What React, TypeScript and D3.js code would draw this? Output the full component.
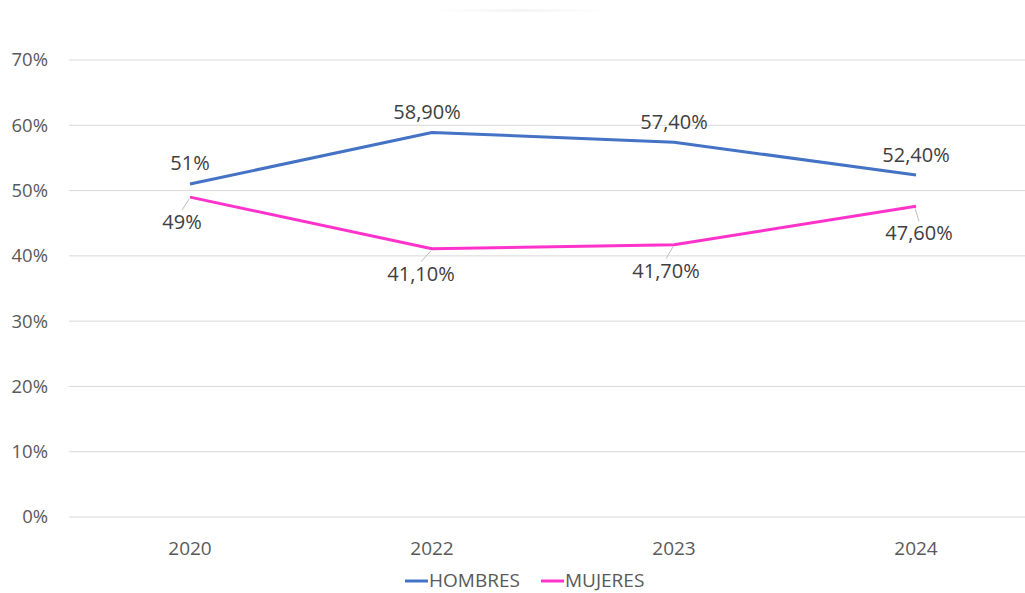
import React from "react";
import * as d3 from "d3";

const categories = ["2020", "2022", "2023", "2024"];
const hombres = [51, 58.9, 57.4, 52.4];
const mujeres = [49, 41.1, 41.7, 47.6];
const hombresLabels = ["51%", "58,90%", "57,40%", "52,40%"];
const mujeresLabels = ["49%", "41,10%", "41,70%", "47,60%"];
const yTicks = [0, 10, 20, 30, 40, 50, 60, 70];

const W = 1025;
const H = 593;
const FONT = "'Open Sans', 'Liberation Sans', sans-serif";

// label offsets (dx, dy of label center relative to point)
const hOffsets = [[0, -21], [-5, -20], [0, -20], [0, -20]];
const mOffsets = [[-8, 25], [-11, 25], [-8, 26], [3, 27]];

export default function App() {
  const x = d3.scalePoint<string>().domain(categories).range([190, 916]);
  const y = d3.scaleLinear().domain([0, 70]).range([517, 60]);
  const line = d3
    .line<number>()
    .x((_, i) => x(categories[i]) as number)
    .y((d) => y(d));

  const series = [
    { name: "HOMBRES", values: hombres, labels: hombresLabels, color: "#4472C4", offsets: hOffsets, leader: false },
    { name: "MUJERES", values: mujeres, labels: mujeresLabels, color: "#FF33CC", offsets: mOffsets, leader: true },
  ];

  return (
    <svg width={W} height={H} style={{ position: "absolute", left: 0, top: 0, background: "#fff" }}>
      <defs>
        <linearGradient id="fade" x1="0" x2="1">
          <stop offset="0" stopColor="#f6f6f6" stopOpacity="0" />
          <stop offset="0.5" stopColor="#f4f4f4" stopOpacity="1" />
          <stop offset="1" stopColor="#f6f6f6" stopOpacity="0" />
        </linearGradient>
      </defs>
      <rect x={432} y={9} width={178} height={3} fill="url(#fade)" />
      {yTicks.map((t) => (
        <g key={t}>
          <line x1={69} x2={1036} y1={y(t)} y2={y(t)} stroke="#d9d9d9" strokeWidth={1} />
          <text x={48} y={y(t)} dy="0.35em" textAnchor="end" fontFamily={FONT} fontSize={18.5} fill="#595959">
            {t}%
          </text>
        </g>
      ))}
      {categories.map((c) => (
        <text key={c} x={x(c)} y={548} dy="0.35em" textAnchor="middle" fontFamily={FONT} fontSize={19} fill="#595959">
          {c}
        </text>
      ))}
      {series.map((s) => (
        <path key={s.name} d={line(s.values) || ""} fill="none" stroke={s.color} strokeWidth={3} strokeLinejoin="round" />
      ))}
      {series.map((s) =>
        s.values.map((v, i) => {
          const px = x(categories[i]) as number;
          const py = y(v);
          const lx = px + s.offsets[i][0];
          const ly = py + s.offsets[i][1];
          return (
            <g key={s.name + i}>
              {s.leader && (
                <line x1={px - 1} y1={py + 2} x2={lx} y2={ly - 12} stroke="#bfbfbf" strokeWidth={1} />
              )}
              <text x={lx} y={ly} dy="0.35em" textAnchor="middle" fontFamily={FONT} fontSize={20} fill="#404040">
                {s.labels[i]}
              </text>
            </g>
          );
        })
      )}
      {/* legend */}
      <g fontFamily={FONT} fontSize={19} fill="#595959">
        <line x1={405} x2={428} y1={581} y2={581} stroke="#4472C4" strokeWidth={3} />
        <text x={429} y={580} dy="0.35em">HOMBRES</text>
        <line x1={541} x2={564} y1={581} y2={581} stroke="#FF33CC" strokeWidth={3} />
        <text x={565} y={580} dy="0.35em">MUJERES</text>
      </g>
    </svg>
  );
}
